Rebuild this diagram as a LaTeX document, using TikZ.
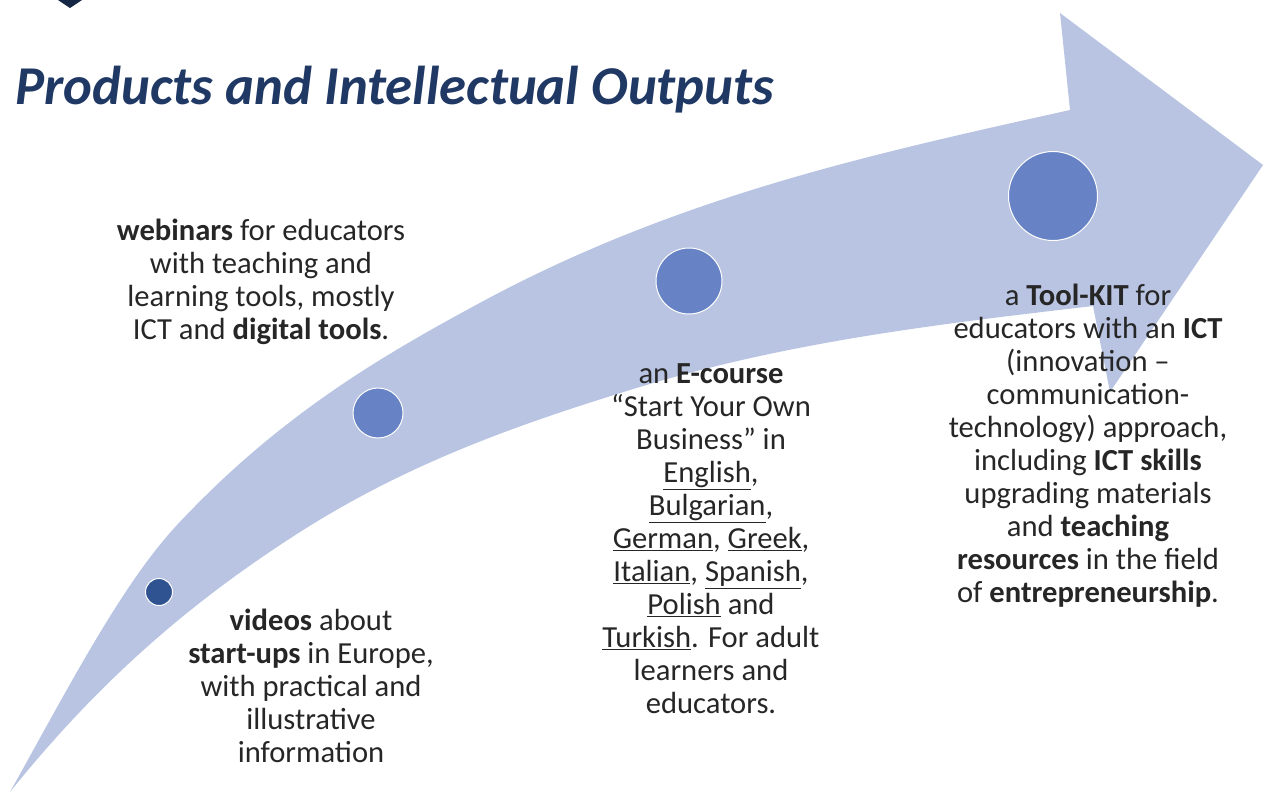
\documentclass[tikz,border=0pt]{standalone}
\usepackage{fontspec}
\setmainfont{Carlito}
\definecolor{arrowfill}{HTML}{B8C4E2}
\definecolor{dotmid}{HTML}{6783C5}
\definecolor{dotdark}{HTML}{2F5290}
\definecolor{titleblue}{HTML}{1F3864}
\definecolor{bodytext}{HTML}{262626}
\tikzset{
  dot/.style={circle,draw=white,line width=1pt,inner sep=0pt},
  body/.style={align=center,text=bodytext,inner sep=0pt,font=\fontsize{30.6}{33}\selectfont},
}
\begin{document}
\begin{tikzpicture}[x=1pt,y=-1pt]
\useasboundingbox (0,0) rectangle (1263,793);
\fill[arrowfill] (10,792) .. controls (66,692) and (121,585) .. (177,525)
  .. controls (277,418) and (376,359) .. (476,305)
  .. controls (674,197) and (872,154) .. (1070,110)
  -- (1060,13) -- (1263,165) -- (1110,392) -- (1093,306)
  .. controls (939,324) and (784,342) .. (630,390)
  .. controls (520,424) and (410,462) .. (300,532)
  .. controls (203,594) and (107,671) .. (10,792) -- cycle;
\fill[titleblue!70!black] (58,0) -- (82,0) -- (70,8) -- cycle;
\node[anchor=base west,inner sep=0pt,text=titleblue,font=\fontsize{54.7}{60}\selectfont\bfseries\itshape] (title) at (15,104) {Products and Intellectual Outputs};
\node[dot,fill=dotdark,minimum size=27pt] (d1) at (159,592) {};
\node[dot,fill=dotmid,minimum size=50pt] (d2) at (378,413) {};
\node[dot,fill=dotmid,minimum size=66pt] (d3) at (689,281) {};
\node[dot,fill=dotmid,minimum size=89pt] (d4) at (1053,196) {};
\node[body] (webinars) at (261,282) {\textbf{webinars} for educators\\with teaching and\\learning tools, mostly\\ICT and \textbf{digital tools}.};
\node[body] (videos) at (311,686) {\textbf{videos} about\\\textbf{start-ups} in Europe,\\with practical and\\illustrative\\information};
\node[body] (ecourse) at (711,539) {an \textbf{E-course}\\“Start Your Own\\Business” in\\\underline{English},\\\underline{Bulgarian},\\\underline{German}, \underline{Greek},\\\underline{Italian}, \underline{Spanish},\\\underline{Polish} and\\\underline{Turkish}. For adult\\learners and\\educators.};
\node[body] (toolkit) at (1088,446) {a \textbf{Tool-KIT} for\\educators with an \textbf{ICT}\\(innovation –\\communication-\\technology) approach,\\including \textbf{ICT skills}\\upgrading materials\\and \textbf{teaching}\\\textbf{resources} in the field\\of \textbf{entrepreneurship}.};
\end{tikzpicture}
\end{document}
